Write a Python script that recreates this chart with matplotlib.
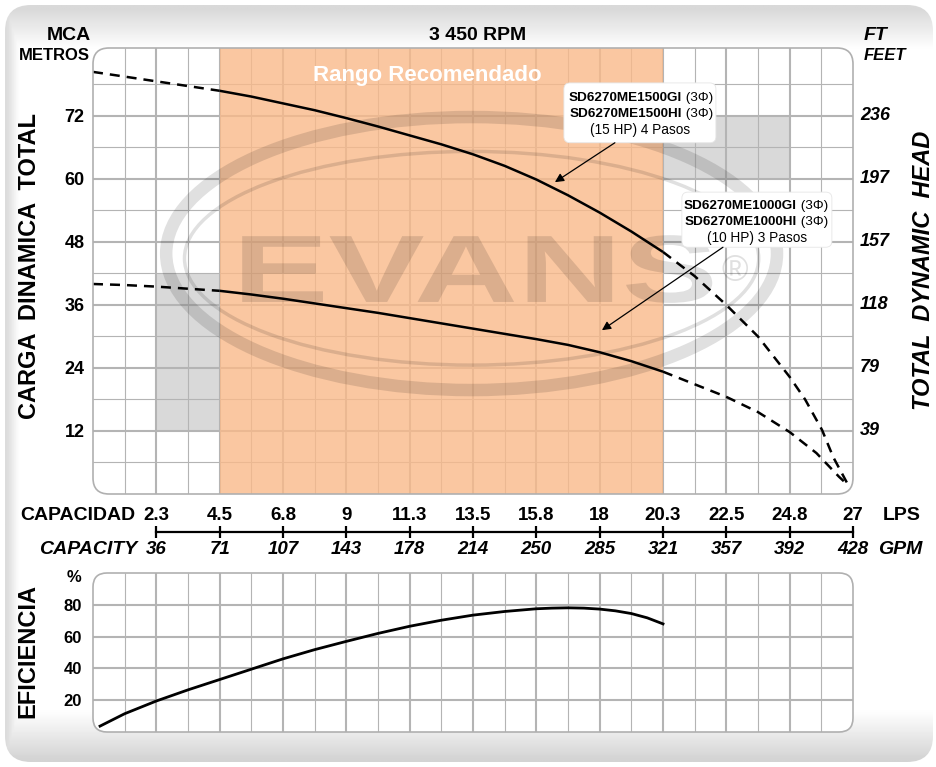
import numpy as np
import matplotlib.pyplot as plt
from matplotlib.patches import FancyBboxPatch, Rectangle, Ellipse, PathPatch
from matplotlib.textpath import TextPath
from matplotlib.font_manager import FontProperties
from matplotlib.transforms import Affine2D

plt.rcParams['font.family'] = ['Liberation Sans', 'DejaVu Sans']

W, H = 936, 767

# capacity axis (LPS) and labels
lps_ticks = [2.25, 4.5, 6.75, 9, 11.25, 13.5, 15.75, 18, 20.25, 22.5, 24.75, 27]
lps_labels = ['2.3', '4.5', '6.8', '9', '11.3', '13.5', '15.8', '18', '20.3', '22.5', '24.8', '27']
gpm_labels = ['36', '71', '107', '143', '178', '214', '250', '285', '321', '357', '392', '428']

# head axis
mca_ticks = [12, 24, 36, 48, 60, 72]
ft_labels = ['39', '79', '118', '157', '197', '236']

# recommended range and shaded zones (x0, x1, y0, y1)
rango = (4.5, 20.25)
gray_zones = [(2.25, 4.5, 12, 42), (20.25, 24.75, 60, 72)]

# 15 HP curve
hp15_x_left = [0, 1.125, 2.25, 3.375, 4.5]
hp15_y_left = [80.4, 79.5, 78.6, 77.7, 76.8]
hp15_x = [4.5, 5.625, 6.75, 7.875, 9, 10.125, 11.25, 12.375, 13.5, 14.625, 15.75, 16.875, 18, 19.125, 20.25]
hp15_y = [76.8, 75.7, 74.4, 73.1, 71.6, 70.0, 68.3, 66.6, 64.7, 62.5, 59.9, 56.9, 53.6, 50.0, 46.1]
hp15_x_right = [20.25, 21.375, 22.5, 23.625, 24.75, 25.3, 25.9, 26.3, 26.8]
hp15_y_right = [46.1, 41.5, 36.0, 30.0, 22.3, 18.0, 12.2, 7.0, 2.0]

# 10 HP curve
hp10_x_left = [0, 1.125, 2.25, 3.375, 4.5]
hp10_y_left = [40.0, 39.8, 39.5, 39.1, 38.7]
hp10_x = [4.5, 5.625, 6.75, 7.875, 9, 10.125, 11.25, 12.375, 13.5, 14.625, 15.75, 16.875, 18, 19.125, 20.25]
hp10_y = [38.7, 38.0, 37.2, 36.3, 35.4, 34.5, 33.5, 32.5, 31.5, 30.5, 29.5, 28.4, 27.0, 25.3, 23.3]
hp10_x_right = [20.25, 21.375, 22.5, 23.625, 24.75, 25.7, 26.5, 26.8]
hp10_y_right = [23.3, 20.9, 18.5, 15.6, 11.8, 7.8, 3.3, 1.8]

# efficiency
eff_x = [0.25, 1.125, 2.25, 3.375, 4.5, 5.625, 6.75, 7.875, 9, 10.125, 11.25, 12.375, 13.5, 14.625,
         15.75, 16.3, 16.875, 17.44, 18, 18.56, 19.125, 19.69, 20.25]
eff_y = [3.7, 11.5, 19.5, 26.5, 33, 39.5, 46, 51.8, 57, 62, 66.5, 70.3, 73.5, 75.8,
         77.5, 77.9, 78.1, 77.9, 77.3, 76.2, 74.5, 71.8, 68]
eff_ticks = [20, 40, 60, 80]

GRID = '#b4b4b4'


def rounded_frame(axis, w_px, h_px, radius=16):
    face = FancyBboxPatch((0, 0), 1, 1, boxstyle='round,pad=0,rounding_size=%f' % (radius / w_px),
                          mutation_aspect=w_px / h_px, transform=axis.transAxes,
                          fc='white', ec='none', zorder=0)
    axis.add_patch(face)
    edge = FancyBboxPatch((0, 0), 1, 1, boxstyle='round,pad=0,rounding_size=%f' % (radius / w_px),
                          mutation_aspect=w_px / h_px, transform=axis.transAxes,
                          fc='none', ec='#b0b0b0', lw=1.2, zorder=9, clip_on=False)
    axis.add_patch(edge)
    axis.set_facecolor('none')
    for s in axis.spines.values():
        s.set_visible(False)
    return face


def draw_grid(axis, xs_major, xs_minor, ys_major, ys_minor, y0, y1, clip):
    arts = [axis.vlines(xs_minor, y0, y1, color=GRID, lw=0.8, zorder=2),
            axis.vlines(xs_major, y0, y1, color=GRID, lw=1.5, zorder=2),
            axis.hlines(ys_minor, 0, 27, color=GRID, lw=0.8, zorder=2),
            axis.hlines(ys_major, 0, 27, color=GRID, lw=1.5, zorder=2)]
    for a in arts:
        a.set_clip_path(clip)


fig = plt.figure(figsize=(W / 100, H / 100), dpi=100)

# background panel
bg = fig.add_axes([0, 0, 1, 1], zorder=-10)
bg.set_xlim(0, W)
bg.set_ylim(H, 0)
bg.axis('off')
yy = np.linspace(0, H, 400)[:, None]
xx = np.linspace(0, W, 400)[None, :]
shade = np.ones((400, 400))
shade = np.minimum(shade, 0.85 + 0.15 * np.clip((yy - 8) / 40, 0, 1))
shade = np.minimum(shade, 0.83 + 0.17 * np.clip((760 - yy) / 48, 0, 1))
shade = np.minimum(shade, 0.86 + 0.14 * np.clip((xx - 6) / 12, 0, 1))
panel = FancyBboxPatch((5, 5), 928, 757, boxstyle='round,pad=0,rounding_size=26',
                       fc='none', ec='none')
bg.add_patch(panel)
im = bg.imshow(shade, cmap='gray', vmin=0, vmax=1, extent=(0, W, H, 0), aspect='auto')
im.set_clip_path(panel)

# main head chart
mx0, mx1, my0, my1 = 93, 853, 48, 494
ax = fig.add_axes([mx0 / W, 1 - my1 / H, (mx1 - mx0) / W, (my1 - my0) / H])
ax.set_xlim(0, 27)
ax.set_ylim(0, 84.95)
frame = rounded_frame(ax, mx1 - mx0, my1 - my0)

for x0, x1, y0, y1 in gray_zones:
    r = ax.add_patch(Rectangle((x0, y0), x1 - x0, y1 - y0, fc='#d9d9d9', ec='none', zorder=1))
    r.set_clip_path(frame)

draw_grid(ax, lps_ticks[:-1], np.arange(1.125, 27, 2.25), mca_ticks, np.arange(6, 84, 12), 0, 84.95, frame)

span = ax.axvspan(rango[0], rango[1], fc='#f9ba8a', alpha=0.8, lw=0, zorder=3)
span.set_clip_path(frame)

# EVANS watermark
wm = dict(color='black', alpha=0.12, zorder=4)
for e in [Ellipse((13.45, 45.8), 21.7, 52, fill=False, lw=9, **wm),
          Ellipse((13.45, 44.9), 20.4, 40.7, fill=False, lw=2.5, **wm)]:
    ax.add_patch(e)
    e.set_clip_path(frame)
tp = TextPath((0, 0), 'EVANS', size=1, prop=FontProperties(family='Liberation Sans', weight='bold'))
ext = tp.get_extents()
word = Affine2D().translate(-ext.x0, -ext.y0).scale(16.7 / ext.width, 12.9 / ext.height).translate(5.3, 36.4)
ax.add_patch(PathPatch(word.transform_path(tp), fc='black', ec='none', alpha=0.12, zorder=4))
ax.text(22.8, 42.3, '\u00ae', ha='center', va='center', fontsize=26, **wm)

ax.text(11.86, 79.8, 'Rango Recomendado', ha='center', va='center', color='white',
        fontsize=16, fontweight='bold', zorder=5)

dash = (0, (4, 2.8))
for xs, ys, ls in [(hp15_x_left, hp15_y_left, dash), (hp15_x, hp15_y, '-'), (hp15_x_right, hp15_y_right, dash),
                   (hp10_x_left, hp10_y_left, dash), (hp10_x, hp10_y, '-'), (hp10_x_right, hp10_y_right, dash)]:
    ln, = ax.plot(xs, ys, color='black', lw=1.8, ls=ls, zorder=6, solid_capstyle='butt')
    ln.set_clip_path(frame)

# model labels
asp = (760 / 27) / (446 / 84.95)
for (bx0, bx1, by0, by1), model_a, model_b, extra, split, ys, tip, tail in [
        ((16.73, 22.13, 66.9, 78.3), 'SD6270ME1500GI', 'SD6270ME1500HI', '(15 HP) 4 Pasos', 20.93,
         (75.4, 72.4, 69.3), (16.41, 59.4), (18.54, 66.9)),
        ((20.92, 26.25, 47.0, 57.5), 'SD6270ME1000GI', 'SD6270ME1000HI', '(10 HP) 3 Pasos', 25.0,
         (54.9, 51.8, 48.8), (18.08, 31.2), (22.38, 47.0))]:
    ax.add_patch(FancyBboxPatch((bx0, by0), bx1 - bx0, by1 - by0, boxstyle='round,pad=0,rounding_size=0.22',
                                mutation_aspect=asp, fc='white', ec='#e6e6e6', lw=0.6, zorder=7))
    for name, yv in [(model_a, ys[0]), (model_b, ys[1])]:
        ax.text(split, yv, name, ha='right', va='center', fontsize=9.7, fontweight='bold', zorder=8)
        ax.text(split, yv, ' (3\u03a6)', ha='left', va='center', fontsize=9.7, zorder=8)
    ax.text((bx0 + bx1) / 2, ys[2], extra, ha='center', va='center', fontsize=9.8, zorder=8)
    ax.annotate('', xy=tip, xytext=tail,
                arrowprops=dict(arrowstyle='-|>', color='black', lw=0.9, mutation_scale=13,
                                shrinkA=0, shrinkB=0), zorder=8)

ax.set_xticks([])
ax.set_yticks(mca_ticks, [str(t) for t in mca_ticks], fontsize=13, fontweight='bold')
ax.tick_params(axis='y', length=0, pad=6)
for t, lab in zip(mca_ticks, ft_labels):
    ax.text(1 + 7 / 760, t, lab, transform=ax.get_yaxis_transform(), ha='left', va='center',
            fontsize=13, fontweight='bold', style='italic')

# capacity scale
cap = fig.add_axes([mx0 / W, 1 - 538 / H, (mx1 - mx0) / W, 12 / H])
cap.set_xlim(0, 27)
cap.set_ylim(0, 1)
cap.axis('off')
cap.plot([lps_ticks[0], lps_ticks[-1]], [0.5, 0.5], color='black', lw=1.6, clip_on=False)
cap.vlines(lps_ticks, 0, 1, color='black', lw=1.6, clip_on=False)
for x, a, b in zip(lps_ticks, lps_labels, gpm_labels):
    cap.text(x, 1.85, a, transform=cap.get_xaxis_transform(), ha='center', va='center',
             fontsize=13.5, fontweight='bold')
    cap.text(x, -0.95, b, transform=cap.get_xaxis_transform(), ha='center', va='center',
             fontsize=13.5, fontweight='bold', style='italic')

# figure texts (pixel positions)
def ftext(px, py, s, **kw):
    fig.text(px / W, 1 - py / H, s, **kw)

ftext(91, 35, 'MCA', ha='right', va='center', fontsize=14, fontweight='bold')
ftext(90, 56, 'METROS', ha='right', va='center', fontsize=12, fontweight='bold')
ftext(478, 35, '3 450 RPM', ha='center', va='center', fontsize=14, fontweight='bold')
ftext(864, 35, 'FT', ha='left', va='center', fontsize=14, fontweight='bold', style='italic')
ftext(864, 56, 'FEET', ha='left', va='center', fontsize=12, fontweight='bold', style='italic')
ftext(30, 266, 'CARGA  DINAMICA  TOTAL', ha='center', va='center', rotation=90,
      fontsize=17, fontweight='bold')
ftext(924, 270, 'TOTAL  DYNAMIC  HEAD', ha='center', va='center', rotation=90,
      fontsize=17, fontweight='bold', style='italic')
ftext(135, 516, 'CAPACIDAD', ha='right', va='center', fontsize=14, fontweight='bold')
ftext(137, 549, 'CAPACITY', ha='right', va='center', fontsize=14, fontweight='bold', style='italic')
ftext(883, 516, 'LPS', ha='left', va='center', fontsize=14, fontweight='bold')
ftext(878, 549, 'GPM', ha='left', va='center', fontsize=14, fontweight='bold', style='italic')
ftext(28, 651, 'EFICIENCIA', ha='center', va='center', rotation=90, fontsize=17, fontweight='bold')
ftext(74, 577, '%', ha='center', va='center', fontsize=12, fontweight='bold')

# efficiency chart
ey0, ey1 = 573, 732
axe = fig.add_axes([mx0 / W, 1 - ey1 / H, (mx1 - mx0) / W, (ey1 - ey0) / H])
axe.set_xlim(0, 27)
axe.set_ylim(0, 100)
eframe = rounded_frame(axe, mx1 - mx0, ey1 - ey0, radius=14)
draw_grid(axe, lps_ticks[:-1], np.arange(1.125, 27, 2.25), eff_ticks, [], 0, 100, eframe)
ln, = axe.plot(eff_x, eff_y, color='black', lw=2, zorder=6)
ln.set_clip_path(eframe)
axe.set_xticks([])
axe.set_yticks(eff_ticks, [str(t) for t in eff_ticks], fontsize=12, fontweight='bold')
axe.tick_params(axis='y', length=0, pad=8)

fig.savefig('out.png', dpi=100)
